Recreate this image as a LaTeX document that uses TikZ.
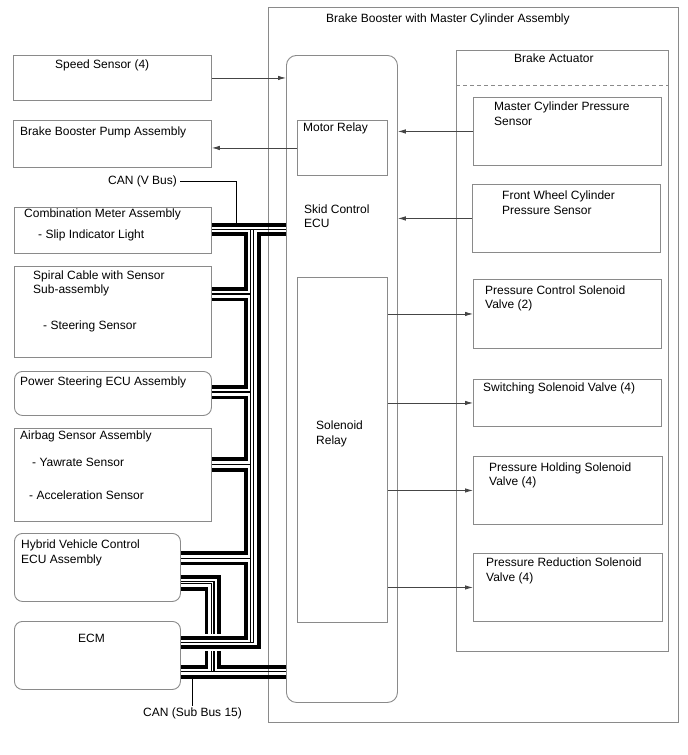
\documentclass[tikz,border=0pt]{standalone}
\usepackage{fontspec}
\setmainfont{Liberation Sans}
\usepackage{xcolor}
\definecolor{cEdge}{HTML}{8A8A8A}
\definecolor{cLine}{HTML}{454545}
\definecolor{cBus}{HTML}{000000}
\usetikzlibrary{positioning,arrows.meta}
\tikzset{
  node-box/.style={draw=cEdge,line width=0.9pt,inner sep=0pt,anchor=north west},
  node-round/.style={node-box,rounded corners=8pt},
  node-text/.style={inner sep=0pt,anchor=north west,align=left,
    font=\fontsize{12}{14.2}\selectfont},
  arrow/.style={-{Latex[length=8pt,width=4.5pt]},line width=0.8pt,draw=cLine},
  leader/.style={line width=0.9pt,draw=cBus},
  % CAN pair: heavy line + light line
  bus-hi/.style={line width=3.8pt,draw=cBus},
  bus-lo/.style={line width=1.1pt,draw=cBus},
  divider/.style={dash pattern=on 4pt off 3pt,draw=cEdge,line width=0.9pt},
}

\begin{document}
\begin{tikzpicture}[x=1pt,y=-1pt]
  \useasboundingbox (0,0) rectangle (688,755);

  % brake booster side
  \node[node-box,minimum width=410pt,minimum height=715pt] (booster) at (268,7) {};
  \node[node-box,minimum width=212pt,minimum height=601pt] (actuator) at (456,50) {};
  \draw[divider] (actuator.west |- 0,85) -- (actuator.east |- 0,85);
  \node[node-round,rounded corners=10pt,minimum width=111pt,minimum height=647pt] (ecu) at (286,55) {};
  \node[node-box,minimum width=90pt,minimum height=55pt] (motor) at (297,120) {};
  \node[node-box,minimum width=90pt,minimum height=345pt] (solrelay) at (297,277) {};
  \node[node-box,minimum width=188pt,minimum height=68pt] (mcps) at (473,97) {};
  \node[node-box,minimum width=188pt,minimum height=68pt] (fwcps) at (472,184) {};
  \node[node-box,minimum width=188pt,minimum height=69pt] (pcsv) at (473,279) {};
  \node[node-box,minimum width=188pt,minimum height=47pt] (ssv) at (473,379) {};
  \node[node-box,minimum width=189pt,minimum height=68pt] (phsv) at (473,456) {};
  \node[node-box,minimum width=189pt,minimum height=68pt] (prsv) at (473,553) {};

  \node[node-text] (booster-t) at (326,13.5) {Brake Booster with Master Cylinder Assembly};
  \node[node-text] (actuator-t) at (514,53.5) {Brake Actuator};
  \node[node-text] (mcps-t) at (494,102) {Master Cylinder Pressure\\Sensor};
  \node[node-text] (fwcps-t) at (502,191) {Front Wheel Cylinder\\Pressure Sensor};
  \node[node-text] (pcsv-t) at (485,285.5) {Pressure Control Solenoid\\Valve (2)};
  \node[node-text] (ssv-t) at (483,382.5) {Switching Solenoid Valve (4)};
  \node[node-text] (phsv-t) at (489,462.5) {Pressure Holding Solenoid\\Valve (4)};
  \node[node-text] (prsv-t) at (486,558) {Pressure Reduction Solenoid\\Valve (4)};
  \node[node-text] (motor-t) at (303,123) {Motor Relay};
  \node[node-text] (ecu-t) at (304,204.5) {Skid Control\\ECU};
  \node[node-text] (solrelay-t) at (316,421) {Solenoid\\Relay};

  % left column
  \node[node-box,minimum width=198pt,minimum height=45pt] (speed) at (13,55) {};
  \node[node-box,minimum width=198pt,minimum height=47pt] (pump) at (13,120) {};
  \node[node-box,minimum width=197pt,minimum height=46pt] (combo) at (14,207) {};
  \node[node-box,minimum width=197pt,minimum height=91pt] (spiral) at (14,266) {};
  \node[node-round,minimum width=197pt,minimum height=44pt] (ps) at (14,371) {};
  \node[node-box,minimum width=197pt,minimum height=93pt] (airbag) at (14,428) {};
  \node[node-round,minimum width=166pt,minimum height=68pt] (hybrid) at (14,533) {};
  \node[node-round,minimum width=166pt,minimum height=68pt] (ecm) at (14,621) {};

  \node[node-text] (speed-t) at (55,59.5) {Speed Sensor (4)};
  \node[node-text] (pump-t) at (20,126.5) {Brake Booster Pump Assembly};
  \node[node-text] (canv) at (108,175.5) {CAN (V Bus)};
  \node[node-text] (combo-t) at (24,209) {Combination Meter Assembly};
  \node[node-text] (combo-s) at (38,230) {- Slip Indicator Light};
  \node[node-text] (spiral-t) at (33,270.5) {Spiral Cable with Sensor\\Sub-assembly};
  \node[node-text] (spiral-s) at (43,321) {- Steering Sensor};
  \node[node-text] (ps-t) at (20,376.5) {Power Steering ECU Assembly};
  \node[node-text] (airbag-t) at (20,430.5) {Airbag Sensor Assembly};
  \node[node-text] (airbag-s1) at (32,458) {- Yawrate Sensor};
  \node[node-text] (airbag-s2) at (29,490.5) {- Acceleration Sensor};
  \node[node-text] (hybrid-t) at (21,540) {Hybrid Vehicle Control\\ECU Assembly};
  \node[node-text] (ecm-t) at (78,633.5) {ECM};
  \node[node-text] (cansub) at (143,707.5) {CAN (Sub Bus 15)};

  % signal arrows
  \draw[arrow] (speed.east) -- (speed.east -| ecu.west);
  \draw[arrow] (motor.west) -- (motor.west -| pump.east);
  \draw[arrow] (mcps.west) -- (mcps.west -| ecu.east);
  \draw[arrow] (fwcps.west) -- (fwcps.west -| ecu.east);
  \foreach \v in {pcsv,ssv,phsv,prsv}
    \draw[arrow] (\v.west -| solrelay.east) -- (\v.west);

  % V bus
  \draw[bus-hi] (combo.east |- 0,224.7) -- (ecu.west |- 0,224.7);
  \draw[bus-lo] (combo.east |- 0,229.5) -- (ecu.west |- 0,229.5);
  \draw[bus-hi] (combo.east |- 0,234.3) -| (245.7,289) -- (spiral.east |- 0,289);
  \draw[bus-hi] (spiral.east |- 0,299.5) -| (245.7,387) -- (ps.east |- 0,387);
  \draw[bus-hi] (ps.east |- 0,397.5) -| (245.7,459.3) -- (airbag.east |- 0,459.3);
  \draw[bus-hi] (airbag.east |- 0,469.8) -| (245.7,553.3) -- (hybrid.east |- 0,553.3);
  \draw[bus-hi] (hybrid.east |- 0,563.5) -| (245.7,638) -- (ecm.east |- 0,638);
  \draw[bus-lo] (250.5,229.5) -- (250.5,642.4);
  \foreach \b/\y in {spiral/294,ps/392,airbag/464.5,hybrid/558.5}
    \draw[bus-lo] (\b.east |- 0,\y) -- (250.5,\y);
  \draw[bus-lo] (253.8,229.5) -- (253.8,642.4) -- (ecm.east |- 0,642.4);
  \draw[bus-hi] (ecu.west |- 0,234.3) -| (258.6,646.8) -- (ecm.east |- 0,646.8);
  \draw[leader] ([xshift=3pt]canv.east) -| (236.7,222.8);

  % sub bus 15
  \draw[bus-hi] (hybrid.east |- 0,576.7) -| (219.3,633.5);
  \draw[bus-lo] (hybrid.east |- 0,581.5) -| (214,633.5);
  \draw[bus-lo] (hybrid.east |- 0,583.9) -| (211.7,633.5);
  \draw[bus-hi] (hybrid.east |- 0,588.7) -| (206.5,633.5);
  \draw[bus-hi] (206.5,651) |- (ecm.east |- 0,667);
  \draw[bus-hi] (219.3,651) |- (ecu.west |- 0,667);
  \draw[bus-lo] (211.7,651) -- (211.7,671.8);
  \draw[bus-lo] (214,651) -- (214,671.8);
  \draw[bus-lo] (ecm.east |- 0,671.8) -- (ecu.west |- 0,671.8);
  \draw[bus-hi] (ecm.east |- 0,676.6) -- (ecu.west |- 0,676.6);
  \draw[leader] ([yshift=2pt]cansub.north) -- (cansub.north |- 0,678.5);
\end{tikzpicture}
\end{document}
